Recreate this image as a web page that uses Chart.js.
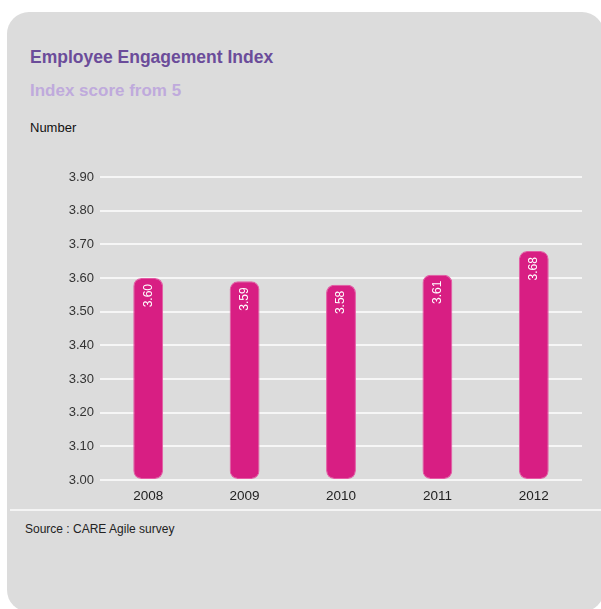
<!DOCTYPE html>
<html>
<head>
<meta charset="utf-8">
<script src="https://cdn.jsdelivr.net/npm/chart.js@4"></script>
<style>
  html, body { margin: 0; padding: 0; background: #fff; width: 601px; height: 609px; overflow: hidden; }
  #panel {
    position: absolute; left: 7px; top: 12px; width: 597px; height: 600px;
    background: #dcdcdc; border-radius: 22px;
  }
  .txt { position: absolute; font-family: "Liberation Sans", Arial, sans-serif; white-space: nowrap; }
  #title { left: 30px; top: 47px; font-size: 17.5px; font-weight: bold; color: #6b4c9a; }
  #subtitle { left: 30px; top: 81px; font-size: 17px; font-weight: bold; color: #bfaadc; }
  #unit { left: 30px; top: 120px; font-size: 13px; color: #111; }
  #rule { position: absolute; left: 10px; top: 509px; width: 600px; height: 2px; background: #f4f4f4; }
  #source { left: 25px; top: 522px; font-size: 12px; color: #222; }
  #chart { position: absolute; left: 0; top: 0; }
</style>
</head>
<body>
<div id="panel"></div>
<div class="txt" id="title">Employee Engagement Index</div>
<div class="txt" id="subtitle">Index score from 5</div>
<div class="txt" id="unit">Number</div>
<div id="rule"></div>
<div class="txt" id="source">Source : CARE Agile survey</div>
<canvas id="chart" width="601" height="609"></canvas>
<script>
 const years = ["2008", "2009", "2010", "2011", "2012"];
 const scores = [3.60, 3.59, 3.58, 3.61, 3.68];
 const yMin = 3.0, yMax = 3.9, yStep = 0.1;

 const fontFamily = '"Liberation Sans", Arial, sans-serif';

 // values written sideways inside the top of each bar
 const barLabels = {
     id: 'barLabels',
     afterDatasetsDraw(chart) {
         const ctx = chart.ctx;
         const meta = chart.getDatasetMeta(0);
         ctx.save();
         ctx.fillStyle = '#ffffff';
         ctx.font = '12px ' + fontFamily;
         ctx.textAlign = 'right';
         ctx.textBaseline = 'middle';
         meta.data.forEach((bar, i) => {
             ctx.save();
             ctx.translate(bar.x, bar.y + 6);
             ctx.rotate(-Math.PI / 2);
             ctx.fillText(scores[i].toFixed(2), 0, 0);
             ctx.restore();
         });
         ctx.restore();
     }
 };

 const ctx = document.getElementById('chart').getContext('2d');
 new Chart(ctx, {
     type: 'bar',
     data: {
         labels: years,
         datasets: [{
             data: scores,
             base: yMin, // bars start at the bottom of the axis, not at zero
             backgroundColor: '#d81e83',
             borderColor: '#e45aa4',
             borderWidth: 1,
             borderRadius: { topLeft: 8, topRight: 8, bottomLeft: 8, bottomRight: 8 },
             borderSkipped: false,
             barPercentage: 0.31,
             categoryPercentage: 1
         }]
     },
     options: {
         responsive: false,
         animation: false,
         layout: { padding: { left: 0, top: 177, right: 19, bottom: 109 } },
         plugins: { legend: { display: false }, tooltip: { enabled: false } },
         scales: {
             x: {
                 grid: { display: false },
                 border: { display: false },
                 ticks: { color: '#222', padding: 0, font: { family: fontFamily, size: 13.5 } },
                 afterFit: s => { s.height = 20; }
             },
             y: {
                 min: yMin,
                 max: yMax,
                 grid: { color: '#f6f6f6', lineWidth: 2, drawTicks: false },
                 border: { display: false },
                 ticks: {
                     stepSize: yStep,
                     padding: 6,
                     color: '#333',
                     font: { family: fontFamily, size: 13 },
                     callback: v => v.toFixed(2)
                 },
                 afterFit: s => { s.width = 100; }
             }
         }
     },
     plugins: [barLabels]
 });
</script>
</body>
</html>
